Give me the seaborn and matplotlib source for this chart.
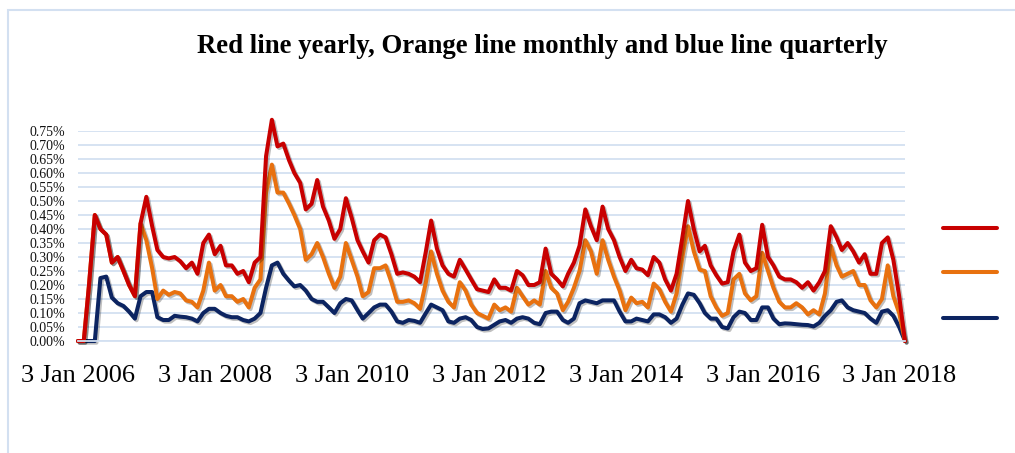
import matplotlib
matplotlib.use("Agg")
import matplotlib.pyplot as plt
import matplotlib.patheffects as pe
from matplotlib.lines import Line2D
from matplotlib.patches import Rectangle
import pandas as pd
import seaborn as sns

# monthly sampling, Jan 2006 .. Feb 2018 (values in %)
dates = pd.date_range("2006-01-01", "2018-02-01", freq="MS")

yearly = [
    0.0, 0.0, 0.20, 0.45, 0.40, 0.38, 0.28, 0.30, 0.25, 0.20, 0.16, 0.42,
    0.515, 0.41, 0.325, 0.30, 0.295, 0.30, 0.285, 0.26, 0.28, 0.24, 0.35, 0.38,
    0.31, 0.34, 0.27, 0.27, 0.24, 0.25, 0.21, 0.28, 0.30, 0.66, 0.79, 0.695,
    0.705, 0.645, 0.60, 0.565, 0.47, 0.49, 0.575, 0.48, 0.43, 0.365, 0.40, 0.51,
    0.44, 0.36, 0.32, 0.28, 0.36, 0.38, 0.37, 0.31, 0.24, 0.245, 0.24, 0.23,
    0.21, 0.32, 0.43, 0.33, 0.27, 0.24, 0.23, 0.29, 0.255, 0.22, 0.185, 0.18,
    0.175, 0.22, 0.19, 0.19, 0.18, 0.25, 0.235, 0.20, 0.20, 0.21, 0.33, 0.24,
    0.22, 0.195, 0.24, 0.28, 0.34, 0.47, 0.41, 0.36, 0.48, 0.40, 0.36, 0.30,
    0.25, 0.29, 0.26, 0.255, 0.235, 0.30, 0.28, 0.22, 0.18, 0.24, 0.37, 0.50,
    0.40, 0.32, 0.34, 0.27, 0.235, 0.205, 0.21, 0.32, 0.38, 0.28, 0.25, 0.26,
    0.415, 0.30, 0.27, 0.23, 0.22, 0.22, 0.21, 0.19, 0.21, 0.18, 0.21, 0.25,
    0.41, 0.37, 0.325, 0.35, 0.32, 0.28, 0.31, 0.24, 0.24, 0.35, 0.37, 0.29,
    0.16, 0.0,
]
monthly = [
    0.0, 0.0, 0.20, 0.45, 0.40, 0.38, 0.28, 0.30, 0.25, 0.20, 0.16, 0.42,
    0.36, 0.26, 0.15, 0.18, 0.165, 0.175, 0.17, 0.145, 0.14, 0.12, 0.18, 0.28,
    0.18, 0.20, 0.16, 0.16, 0.14, 0.15, 0.12, 0.19, 0.22, 0.53, 0.63, 0.53,
    0.53, 0.49, 0.45, 0.40, 0.29, 0.31, 0.35, 0.30, 0.24, 0.19, 0.23, 0.35,
    0.29, 0.23, 0.16, 0.175, 0.26, 0.26, 0.27, 0.21, 0.14, 0.14, 0.145, 0.135,
    0.115, 0.21, 0.32, 0.24, 0.18, 0.14, 0.12, 0.21, 0.18, 0.13, 0.10, 0.09,
    0.08, 0.13, 0.11, 0.12, 0.105, 0.19, 0.16, 0.13, 0.145, 0.13, 0.25, 0.19,
    0.17, 0.11, 0.14, 0.19, 0.25, 0.36, 0.32, 0.24, 0.36, 0.29, 0.23, 0.18,
    0.11, 0.155, 0.135, 0.14, 0.12, 0.205, 0.185, 0.14, 0.105, 0.17, 0.30, 0.41,
    0.32, 0.255, 0.25, 0.16, 0.12, 0.09, 0.10, 0.22, 0.24, 0.17, 0.145, 0.16,
    0.315, 0.25, 0.19, 0.14, 0.12, 0.12, 0.135, 0.12, 0.095, 0.11, 0.095, 0.17,
    0.34, 0.27, 0.23, 0.24, 0.25, 0.20, 0.20, 0.145, 0.12, 0.15, 0.27, 0.16,
    0.10, 0.0,
]
quarterly = [
    0.0, 0.0, 0.0, 0.0, 0.225, 0.23, 0.155, 0.135, 0.125, 0.105, 0.08, 0.16,
    0.175, 0.175, 0.085, 0.075, 0.075, 0.09, 0.087, 0.085, 0.08, 0.07, 0.10, 0.115,
    0.115, 0.10, 0.09, 0.085, 0.085, 0.075, 0.07, 0.08, 0.10, 0.19, 0.27, 0.28,
    0.24, 0.215, 0.195, 0.20, 0.18, 0.15, 0.14, 0.14, 0.12, 0.10, 0.135, 0.15,
    0.145, 0.11, 0.08, 0.10, 0.12, 0.13, 0.13, 0.105, 0.07, 0.065, 0.075, 0.072,
    0.065, 0.10, 0.13, 0.12, 0.11, 0.07, 0.065, 0.08, 0.085, 0.075, 0.05, 0.043,
    0.045, 0.058, 0.07, 0.075, 0.065, 0.08, 0.085, 0.08, 0.065, 0.06, 0.10, 0.105,
    0.105, 0.075, 0.065, 0.08, 0.135, 0.145, 0.14, 0.135, 0.145, 0.145, 0.145, 0.105,
    0.07, 0.07, 0.08, 0.075, 0.07, 0.095, 0.095, 0.085, 0.065, 0.08, 0.13, 0.17,
    0.165, 0.135, 0.10, 0.08, 0.08, 0.05, 0.045, 0.085, 0.105, 0.10, 0.075, 0.075,
    0.12, 0.12, 0.08, 0.06, 0.063, 0.062, 0.06, 0.058, 0.057, 0.052, 0.065, 0.09,
    0.11, 0.14, 0.145, 0.12, 0.11, 0.105, 0.10, 0.08, 0.065, 0.105, 0.11, 0.09,
    0.05, 0.0,
]

tick_dates = ["2006-01-03", "2008-01-03", "2010-01-03", "2012-01-03",
              "2014-01-03", "2016-01-03", "2018-01-03"]
tick_labels = ["3 Jan 2006", "3 Jan 2008", "3 Jan 2010", "3 Jan 2012",
               "3 Jan 2014", "3 Jan 2016", "3 Jan 2018"]
y_ticks = [0.00, 0.05, 0.10, 0.15, 0.20, 0.25, 0.30, 0.35,
           0.40, 0.45, 0.50, 0.55, 0.60, 0.65, 0.70, 0.75]

title = "Red line yearly, Orange line monthly and blue line quarterly"
colors = {"yearly": "#c80000", "monthly": "#e8710f", "quarterly": "#0c2461"}
grid_blue = "#d3e0f1"

sns.set_style("white")
plt.rcParams["font.family"] = ["Liberation Serif", "DejaVu Serif"]

df = pd.DataFrame({"date": dates, "yearly": yearly,
                   "monthly": monthly, "quarterly": quarterly})

fig = plt.figure(figsize=(10.15, 4.53), dpi=100)
ax = fig.add_axes([0.0768, 0.2472, 0.8148, 0.4636])

shadow = [pe.SimpleLineShadow(offset=(1.2, -1.2), alpha=0.25), pe.Normal()]
for name in ["quarterly", "monthly", "yearly"]:
    sns.lineplot(data=df, x="date", y=name, ax=ax, color=colors[name],
                 linewidth=2.9, clip_on=False, path_effects=shadow)

ax.set_xlim(pd.Timestamp("2006-01-01"), pd.Timestamp("2018-02-01"))
ax.set_ylim(0, 0.75)
ax.set_yticks(y_ticks)
ax.set_yticklabels([f"{v:.2f}%" for v in y_ticks], fontsize=10)
ax.set_xticks(pd.to_datetime(tick_dates))
ax.set_xticklabels(tick_labels, fontsize=19)
ax.set_xlabel("")
ax.set_ylabel("")
ax.yaxis.grid(True, color=grid_blue, linewidth=1.3)
ax.set_axisbelow(True)
for side in ["top", "right", "left"]:
    ax.spines[side].set_visible(False)
ax.spines["bottom"].set_color(grid_blue)
ax.spines["bottom"].set_linewidth(1.3)
ax.tick_params(axis="x", direction="out", length=5, width=1, color=grid_blue,
               pad=12, labelcolor="black")
ax.tick_params(axis="y", length=0, pad=9, labelcolor="#111111")

fig.text(0.534, 0.898, title, ha="center", va="center", color="black",
         fontsize=19.3, fontweight="bold")

# legend keys without labels
for yy, name in zip([0.497, 0.399, 0.298], ["yearly", "monthly", "quarterly"]):
    fig.add_artist(Line2D([0.929, 0.982], [yy, yy], color=colors[name],
                          linewidth=2.9, solid_capstyle="round"))

# chart frame
fig.add_artist(Rectangle((0.008, -0.1), 1.1, 1.078, transform=fig.transFigure,
                         fill=False, edgecolor=grid_blue, linewidth=1.5))

fig.savefig("out.png", dpi=100)
plt.close(fig)
